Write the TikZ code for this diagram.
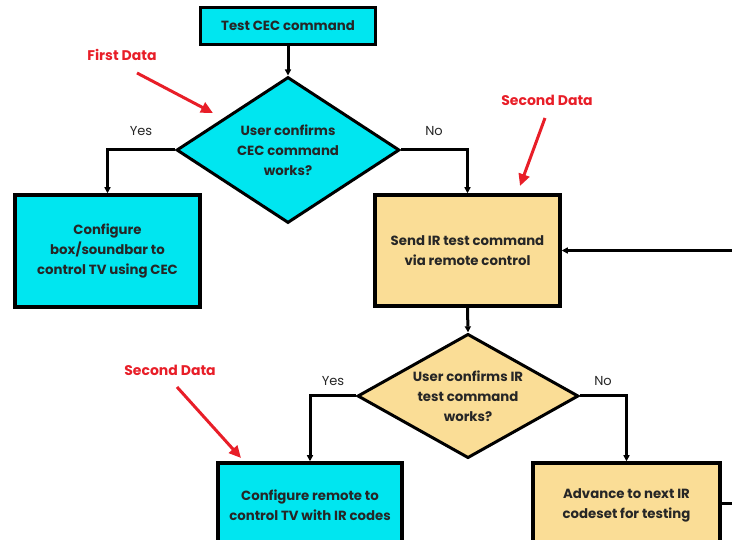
\documentclass[tikz,border=0pt]{standalone}
\usepackage{fontspec}
\setmainfont{Poppins}
\usetikzlibrary{shapes.geometric,arrows.meta}
\definecolor{cy}{RGB}{0,230,240}
\definecolor{tanf}{RGB}{250,221,150}
\definecolor{rd}{RGB}{232,30,40}
\begin{document}
\begin{tikzpicture}[x=1pt,y=-1pt,
  txt/.style={font=\bfseries\fontsize{13.3}{20}\selectfont, text=black!85},
  box/.style={txt, draw=black, line width=3.5pt, inner sep=0pt, align=center},
  dia/.style={txt, diamond, draw=black, line width=3pt, inner sep=0pt, align=center, shape aspect=1.5},
  conn/.style={draw=black, line width=3pt, -{Triangle[length=6pt,width=6pt]}},
  plain/.style={draw=black, line width=3pt},
  lab/.style={font=\fontsize{13}{14}\selectfont, text=black!85},
  note/.style={font=\bfseries\fontsize{14}{16}\selectfont, text=rd},
  redarrow/.style={draw=rd, line width=3pt, -{Triangle[length=12pt,width=11pt]}}
]
\useasboundingbox (0,0) rectangle (732,540);

\node[box, fill=cy, minimum width=175pt, minimum height=37pt] (t) at (288,26) {Test CEC command};
\node[dia, fill=cy, minimum width=223pt, minimum height=146pt] (d1) at (288,150) {User confirms\\CEC command\\works?};
\node[box, fill=cy, minimum width=185pt, minimum height=112pt] (b2) at (107.5,251) {Configure\\box/soundbar to\\control TV using CEC};
\node[box, fill=tanf, minimum width=185pt, minimum height=111pt] (b3) at (467.5,250.5) {Send IR test command\\via remote control};
\node[dia, fill=tanf, minimum width=221pt, minimum height=122pt] (d2) at (468,396) {User confirms IR\\test command\\works?};
\node[box, fill=cy, minimum width=184pt, minimum height=84pt] (b4) at (310,505) {Configure remote to\\control TV with IR codes};
\node[box, fill=tanf, minimum width=187pt, minimum height=84pt] (b5) at (626.5,505) {Advance to next IR\\codeset for testing};

\coordinate (r1) at (732,250.5);
\coordinate (r2) at (732,503);

\draw[conn] (t.south) -- (d1.north);
\draw[conn] (d1.west) -| (b2.north);
\draw[conn] (d1.east) -| (b3.north);
\draw[conn] (r1) -- (b3.east);
\draw[conn] (b3.south) -- (d2.north);
\draw[conn] (d2.west) -| (b4.north);
\draw[conn] (d2.east) -| (b5.north);
\draw[plain] (b5.east |- r2) -- (r2);

\node[lab] (y1) at (141,131) {Yes};
\node[lab] (n1) at (434,131) {No};
\node[lab] (y2) at (333,381) {Yes};
\node[lab] (n2) at (603,381) {No};

\node[note] (f1) at (122,55) {First Data};
\node[note] (s1) at (547,100) {Second Data};
\node[note] (s2) at (170,370) {Second Data};
\coordinate (f1a) at (137,73);
\coordinate (f1b) at (213,113);
\coordinate (s1a) at (545,118);
\coordinate (s1b) at (520,186);
\coordinate (s2a) at (177,387);
\coordinate (s2b) at (241,458);
\draw[redarrow] (f1a) -- (f1b);
\draw[redarrow] (s1a) -- (s1b);
\draw[redarrow] (s2a) -- (s2b);
\end{tikzpicture}
\end{document}
